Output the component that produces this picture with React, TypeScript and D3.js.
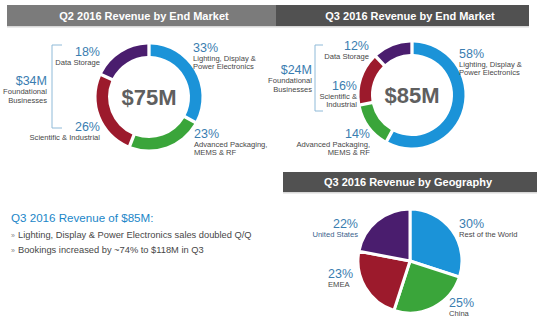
import React from "react";
import * as d3 from "d3";

const q2Categories = ["Lighting, Display & Power Electronics", "Advanced Packaging, MEMS & RF", "Scientific & Industrial", "Data Storage"];
const q2Values = [33, 23, 26, 18];
const q3Categories = ["Lighting, Display & Power Electronics", "Advanced Packaging, MEMS & RF", "Scientific & Industrial", "Data Storage"];
const q3Values = [58, 14, 16, 12];
const geoCategories = ["Rest of the World", "China", "EMEA", "United States"];
const geoValues = [30, 25, 23, 22];
const sliceColors = ["#1b93d8", "#3aa53a", "#9c1a2c", "#4a1d6e"];

const titles = ["Q2 2016 Revenue by End Market", "Q3 2016 Revenue by End Market", "Q3 2016 Revenue by Geography"];
const totals = ["$75M", "$85M"];
const foundational = ["$34M", "$24M"];
const noteTitle = "Q3 2016 Revenue of $85M:";
const noteBullets = [
  "Lighting, Display & Power Electronics sales doubled Q/Q",
  "Bookings increased by ~74% to $118M in Q3",
];

const FONT = "'Liberation Sans', Arial, Helvetica, sans-serif";
const PCT = "#3a7db0";
const TXT = "#474747";

type Lbl = { pct: string; lines: string[]; x: number; y: number; anchor: string; lh?: number; color?: string };

function Label({ l }: { l: Lbl }) {
  const lh = l.lh ?? 8.3;
  return (
    <g fontFamily={FONT}>
      <text x={l.x} y={l.y} fontSize={12.5} fill={PCT} textAnchor={l.anchor}>{l.pct}</text>
      {l.lines.map((s, i) => (
        <text key={i} x={l.x} y={l.y + 8.8 + i * lh} fontSize={7.6} fill={l.color ?? TXT} textAnchor={l.anchor}>{s}</text>
      ))}
    </g>
  );
}

function Donut({ values, cx, cy, r0, r1, pad }: { values: number[]; cx: number; cy: number; r0: number; r1: number; pad: number }) {
  const pie = d3.pie<number>().sort(null).value((d) => d);
  const arcs = pie(values);
  const arc = d3.arc<d3.PieArcDatum<number>>().innerRadius(r0).outerRadius(r1).padAngle(pad);
  return (
    <g transform={`translate(${cx},${cy})`}>
      {arcs.map((a, i) => (
        <path key={i} d={arc(a) || ""} fill={sliceColors[i]} stroke="#fff" strokeWidth={r0 === 0 ? 3 : 0} strokeLinejoin="miter" />
      ))}
    </g>
  );
}

function Header({ x, y, w, h, fill, text, tx }: { x: number; y: number; w: number; h: number; fill: string; text: string; tx: number }) {
  return (
    <g>
      <rect x={x} y={y} width={w} height={h} fill={fill} />
      <rect x={x} y={y + h} width={w} height={1.5} fill="#d8d8d8" />
      <text x={tx} y={y + h / 2 + 4} textAnchor="middle" fontFamily={FONT} fontWeight="bold" fontSize={11} fill="#fff">{text}</text>
    </g>
  );
}

function Bracket({ x, y0, y1, len }: { x: number; y0: number; y1: number; len: number }) {
  const p = d3.path();
  p.moveTo(x + len, y0);
  p.lineTo(x, y0);
  p.lineTo(x, y1);
  p.lineTo(x + len, y1);
  return <path d={p.toString()} fill="none" stroke="#8fbad8" strokeWidth={1} />;
}

export default function App() {
  const q2Labels: Lbl[] = [
    { pct: `${q2Values[0]}%`, lines: ["Lighting, Display &", "Power Electronics"], x: 193, y: 52, anchor: "start" },
    { pct: `${q2Values[1]}%`, lines: ["Advanced Packaging,", "MEMS & RF"], x: 194, y: 138, anchor: "start" },
    { pct: `${q2Values[2]}%`, lines: ["Scientific &  Industrial"], x: 100, y: 131, anchor: "end" },
    { pct: `${q2Values[3]}%`, lines: ["Data Storage"], x: 100, y: 56, anchor: "end" },
  ];
  const q3Labels: Lbl[] = [
    { pct: `${q3Values[0]}%`, lines: ["Lighting, Display &", "Power Electronics"], x: 459, y: 58, anchor: "start" },
    { pct: `${q3Values[1]}%`, lines: ["Advanced Packaging,", "MEMS & RF"], x: 370, y: 138, anchor: "end" },
    { pct: `${q3Values[2]}%`, lines: ["Scientific &", "Industrial"], x: 357, y: 90, anchor: "end" },
    { pct: `${q3Values[3]}%`, lines: ["Data Storage"], x: 369, y: 50, anchor: "end" },
  ];
  const geoLabels: Lbl[] = [
    { pct: `${geoValues[0]}%`, lines: [geoCategories[0]], x: 459, y: 228, anchor: "start" },
    { pct: `${geoValues[1]}%`, lines: [geoCategories[1]], x: 449, y: 307, anchor: "start" },
    { pct: `${geoValues[2]}%`, lines: [geoCategories[2]], x: 328, y: 278, anchor: "start" },
    { pct: `${geoValues[3]}%`, lines: [geoCategories[3]], x: 358, y: 228, anchor: "end", color: "#3b5f8c" },
  ];

  return (
    <svg width={542} height={333} style={{ position: "absolute", left: 0, top: 0, background: "#fff" }}>
      <Header x={7} y={5} w={269} h={21} fill="#7b7b7b" text={titles[0]} tx={144} />
      <Header x={276} y={5} w={253} h={21} fill="#515151" text={titles[1]} tx={410} />
      <Header x={283} y={172} w={254} h={20} fill="#515151" text={titles[2]} tx={408} />

      <Donut values={q2Values} cx={149} cy={97} r0={41} r1={52.5} pad={0.05} />
      <text x={149} y={105} textAnchor="middle" fontFamily={FONT} fontWeight="bold" fontSize={22} fill="#5f5f5f">{totals[0]}</text>
      {q2Labels.map((l, i) => <Label key={i} l={l} />)}
      <Bracket x={52} y0={45} y1={128} len={10} />
      <g fontFamily={FONT} textAnchor="end">
        <text x={47} y={85} fontSize={12.5} fill={PCT}>{foundational[0]}</text>
        <text x={47} y={94} fontSize={7.6} fill={TXT}>Foundational</text>
        <text x={47} y={103} fontSize={7.6} fill={TXT}>Businesses</text>
      </g>

      <Donut values={q3Values} cx={412} cy={95} r0={41} r1={52.5} pad={0.05} />
      <text x={412} y={103} textAnchor="middle" fontFamily={FONT} fontWeight="bold" fontSize={22} fill="#5f5f5f">{totals[1]}</text>
      {q3Labels.map((l, i) => <Label key={i} l={l} />)}
      <Bracket x={315} y0={45} y1={111} len={8} />
      <g fontFamily={FONT} textAnchor="end">
        <text x={312} y={74} fontSize={12.5} fill={PCT}>{foundational[1]}</text>
        <text x={312} y={83} fontSize={7.6} fill={TXT}>Foundational</text>
        <text x={312} y={92} fontSize={7.6} fill={TXT}>Businesses</text>
      </g>

      <Donut values={geoValues} cx={410} cy={261} r0={0} r1={52} pad={0} />
      {geoLabels.map((l, i) => <Label key={i} l={l} />)}

      <g fontFamily={FONT}>
        <text x={11} y={222} fontSize={11.6} fill="#1a86c8">{noteTitle}</text>
        {noteBullets.map((b, i) => (
          <g key={i}>
            <text x={11} y={238 + i * 15} fontSize={7} fill="#888">»</text>
            <text x={18} y={238 + i * 15} fontSize={9.3} fill={TXT}>{b}</text>
          </g>
        ))}
      </g>
    </svg>
  );
}
